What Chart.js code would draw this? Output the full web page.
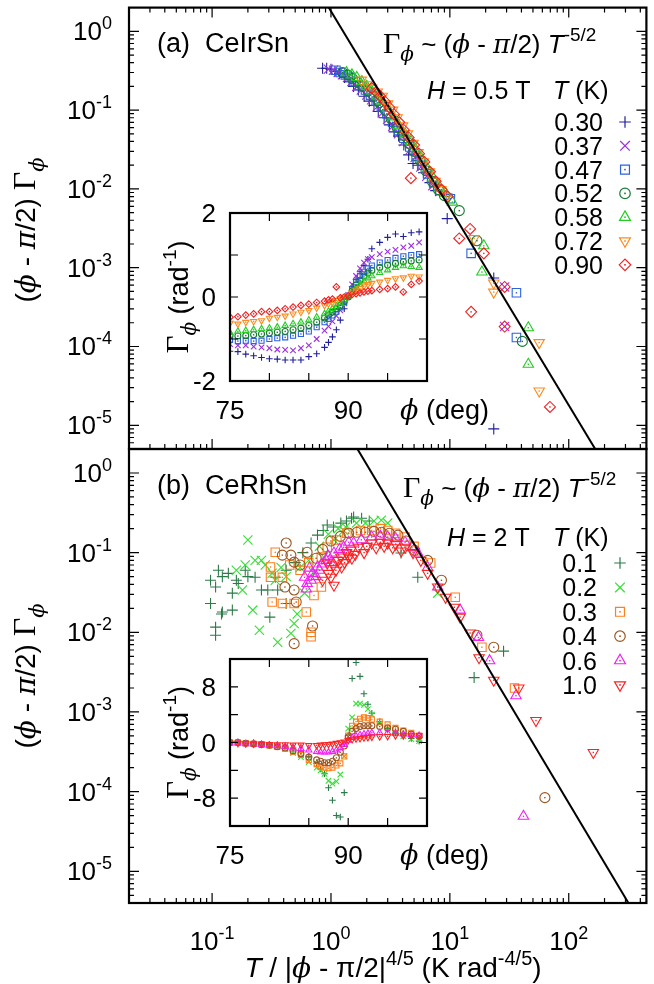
<!DOCTYPE html>
<html>
<head>
<meta charset="utf-8">
<script src="https://cdn.jsdelivr.net/npm/chart.js@4.4.1/dist/chart.umd.min.js"></script>
<style>
  body { margin: 0; background: #fff; }
  #wrap { position: relative; width: 654px; height: 984px; }
  #wrap canvas { position: absolute; left: 0; top: 0; }
</style>
</head>
<body>
<div id="wrap">
  <canvas id="mainA" width="654" height="984"></canvas>
  <canvas id="mainB" width="654" height="984"></canvas>
  <canvas id="insetA" width="654" height="984"></canvas>
  <canvas id="insetB" width="654" height="984"></canvas>
</div>
<script>
// ---- panel (a) CeIrSn, H = 0.5 T : main scaling plot [x, y] ----
const tempsA = ['0.30', '0.37', '0.47', '0.52', '0.58', '0.72', '0.90'];
const a030 = [[0.85,0.34],[0.92,0.34],[1.0,0.33],[1.08,0.31],[1.18,0.29],[1.3,0.26],[1.42,0.23],[1.55,0.2],[1.7,0.18],[1.9,0.15],[2.1,0.13],[2.3,0.115],[2.5,0.096],[2.8,0.08],[3.1,0.065],[3.4,0.053],[3.7,0.047],[4.1,0.036],[4.5,0.027],[4.9,0.021],[5.4,0.02],[6.0,0.016],[6.8,0.012],[7.6,0.0095],[9.5,0.0042],[23.4,0.00074],[23.4,0.000009]];
const a037 = [[0.95,0.33],[1.05,0.32],[1.15,0.3],[1.25,0.28],[1.38,0.26],[1.5,0.23],[1.65,0.2],[1.8,0.18],[2.0,0.155],[2.2,0.135],[2.45,0.11],[2.7,0.092],[3.0,0.076],[3.3,0.062],[3.7,0.05],[4.1,0.04],[4.6,0.031],[5.1,0.025],[5.7,0.019],[6.4,0.0145],[7.2,0.011],[28.9,0.00057],[28.9,0.000179]];
const a047 = [[1.1,0.32],[1.2,0.3],[1.32,0.28],[1.45,0.26],[1.6,0.23],[1.75,0.205],[1.95,0.18],[2.15,0.155],[2.4,0.13],[2.65,0.11],[2.95,0.09],[3.3,0.07],[3.7,0.055],[4.1,0.044],[4.6,0.034],[5.2,0.026],[5.8,0.02],[6.5,0.0155],[7.3,0.012],[8.2,0.0095],[10.1,0.0075],[15.1,0.00152],[36.3,0.00048],[36.3,0.00013]];
const a052 = [[1.25,0.3],[1.38,0.28],[1.52,0.25],[1.68,0.225],[1.85,0.2],[2.05,0.175],[2.3,0.15],[2.55,0.125],[2.85,0.1],[3.2,0.078],[3.6,0.06],[4.0,0.048],[4.5,0.038],[5.0,0.03],[5.6,0.023],[6.3,0.017],[7.1,0.0125],[8.0,0.0098],[9.0,0.0082],[12.0,0.0053],[16.9,0.0022],[40.7,0.000116]];
const a058 = [[1.35,0.3],[1.5,0.28],[1.65,0.26],[1.82,0.23],[2.0,0.2],[2.2,0.175],[2.45,0.15],[2.7,0.13],[3.0,0.105],[3.35,0.082],[3.75,0.063],[4.2,0.05],[4.7,0.04],[5.2,0.031],[5.8,0.024],[6.5,0.018],[7.3,0.0135],[8.2,0.0105],[9.2,0.0088],[10.5,0.0068],[19.3,0.0019],[18.6,0.00088],[45.7,0.000173],[45.7,0.0000594]];
const a072 = [[1.8,0.24],[2.0,0.21],[2.2,0.19],[2.45,0.17],[2.7,0.15],[3.0,0.12],[3.3,0.1],[3.6,0.08],[4.0,0.063],[4.4,0.05],[4.9,0.038],[5.4,0.029],[6.0,0.022],[6.7,0.0165],[7.5,0.0125],[8.4,0.0098],[9.4,0.008],[16.0,0.00235],[23.4,0.00064],[23.4,0.00049],[56.4,0.000112],[56.4,0.0000272]];
const a090 = [[2.2,0.19],[2.4,0.17],[2.6,0.15],[2.85,0.128],[3.1,0.108],[3.4,0.088],[3.75,0.07],[4.1,0.056],[4.5,0.045],[5.0,0.036],[5.5,0.028],[6.1,0.022],[6.8,0.0165],[7.6,0.0125],[8.5,0.0098],[9.6,0.008],[4.7,0.0137],[14.8,0.0031],[12.0,0.00235],[19.3,0.00152],[28.9,0.00057],[15.1,0.000275],[28.9,0.000179],[69.5,0.0000171]];

// ---- panel (a) inset: Gamma_phi (rad^-1) vs phi (deg) ----
const phiA = [75,76,77,78,79,80,81,82,83,84,85,86,87,87.5,88,88.5,89,89.5,90,90.5,91,91.5,92,92.5,93,94,95,96,97,98,99];
const ia030 = [-1.29,-1.30,-1.36,-1.40,-1.44,-1.47,-1.48,-1.50,-1.50,-1.50,-1.42,-1.35,-1.20,-1.08,-0.95,-0.78,-0.55,-0.28,0.02,0.25,0.42,0.60,0.75,0.90,1.15,1.30,1.42,1.50,1.44,1.53,1.55];
const ia037 = [-1.12,-1.15,-1.15,-1.18,-1.20,-1.22,-1.25,-1.26,-1.27,-1.22,-1.15,-1.00,-0.80,-0.70,-0.58,-0.45,-0.32,-0.15,0.05,0.30,0.50,0.68,0.82,0.90,0.95,1.02,1.08,1.12,1.18,1.22,1.30];
const ia047 = [-1.02,-1.05,-1.04,-1.05,-1.04,-1.00,-0.98,-0.96,-0.92,-0.88,-0.82,-0.72,-0.60,-0.52,-0.44,-0.35,-0.25,-0.12,0.02,0.18,0.35,0.50,0.60,0.68,0.75,0.82,0.88,0.93,0.97,1.00,1.02];
const ia052 = [-0.92,-0.93,-0.92,-0.90,-0.88,-0.86,-0.84,-0.82,-0.78,-0.74,-0.68,-0.60,-0.50,-0.43,-0.36,-0.28,-0.20,-0.10,0.00,0.14,0.28,0.40,0.50,0.57,0.63,0.70,0.76,0.80,0.84,0.86,0.88];
const ia058 = [-0.85,-0.82,-0.80,-0.78,-0.76,-0.74,-0.72,-0.68,-0.64,-0.60,-0.55,-0.48,-0.40,-0.34,-0.28,-0.22,-0.15,-0.07,0.02,0.12,0.22,0.30,0.38,0.45,0.50,0.58,0.64,0.70,0.74,0.72,0.70];
const ia072 = [-0.62,-0.64,-0.60,-0.58,-0.56,-0.50,-0.48,-0.45,-0.40,-0.36,-0.32,-0.26,-0.20,-0.16,-0.13,-0.08,-0.04,0.00,0.04,0.10,0.15,0.20,0.26,0.30,0.33,0.36,0.40,0.44,0.46,0.50,0.48];
const ia090 = [-0.48,-0.47,-0.43,-0.40,-0.35,-0.35,-0.32,-0.28,-0.24,-0.20,-0.17,-0.13,-0.10,-0.07,-0.05,0.24,-0.02,0.00,0.03,0.06,0.08,0.10,0.12,0.14,0.15,0.18,0.20,0.24,0.12,0.30,0.38];

// ---- panel (b) CeRhSn, H = 2 T : main scaling plot [x, y] ----
const tempsB = ['0.1', '0.2', '0.3', '0.4', '0.6', '1.0'];
const b01 = [[0.097,0.045],[0.107,0.037],[0.113,0.06],[0.122,0.05],[0.137,0.055],[0.148,0.031],[0.16,0.045],[0.166,0.041],[0.19,0.06],[0.122,0.018],[0.107,0.0116],[0.107,0.0092],[0.097,0.023],[0.12,0.017],[0.148,0.019],[0.2,0.05],[0.23,0.049],[0.26,0.034],[0.294,0.034],[0.306,0.0155],[0.34,0.049],[0.356,0.034],[0.42,0.023],[0.42,0.06],[0.5,0.075],[0.58,0.1],[0.68,0.132],[0.77,0.166],[0.86,0.19],[0.93,0.222],[1.05,0.21],[1.21,0.235],[1.35,0.25],[1.49,0.27],[1.55,0.28],[1.81,0.27],[2.1,0.25],[3.88,0.099],[5.37,0.049],[16,0.0027],[28.3,0.0058]];
const b02 = [[0.2,0.144],[0.23,0.08],[0.26,0.08],[0.28,0.07],[0.32,0.055],[0.34,0.045],[0.18,0.034],[0.16,0.06],[0.19,0.07],[0.22,0.019],[0.25,0.0106],[0.356,0.0075],[0.46,0.0097],[0.49,0.0129],[0.52,0.017],[0.6,0.031],[0.38,0.065],[0.42,0.05],[0.55,0.065],[0.65,0.08],[0.72,0.055],[0.8,0.12],[0.87,0.088],[0.95,0.17],[1.06,0.144],[1.15,0.2],[1.28,0.19],[1.33,0.21],[1.64,0.235],[1.95,0.235],[2.3,0.25],[2.65,0.256],[3.0,0.235],[7.9,0.031]];
const b03 = [[0.34,0.101],[0.31,0.066],[0.31,0.049],[0.39,0.049],[0.32,0.024],[0.39,0.023],[0.49,0.023],[0.62,0.018],[0.68,0.01],[0.68,0.0088],[0.72,0.029],[0.83,0.037],[0.45,0.07],[0.55,0.06],[0.65,0.075],[0.83,0.088],[0.93,0.117],[1.12,0.144],[1.36,0.176],[1.77,0.19],[2.2,0.19],[2.6,0.2],[3.0,0.19],[3.5,0.175],[4.2,0.157],[5.0,0.12],[6.9,0.074],[11.1,0.0275],[18.6,0.0065],[35,0.002]];
const b04 = [[0.42,0.132],[0.39,0.093],[0.46,0.093],[0.49,0.076],[0.63,0.101],[0.75,0.085],[0.41,0.037],[0.49,0.034],[0.51,0.024],[0.70,0.012],[0.49,0.0072],[0.55,0.07],[0.85,0.11],[1.0,0.14],[1.2,0.16],[1.41,0.176],[1.65,0.18],[1.95,0.18],[2.3,0.185],[2.65,0.18],[3.1,0.175],[3.66,0.166],[4.3,0.14],[5.07,0.107],[6.5,0.08],[8.5,0.045],[16.9,0.0092],[23.4,0.0065],[63,0.000084]];
const b06 = [[0.6,0.049],[0.62,0.035],[0.63,0.041],[0.66,0.064],[0.68,0.045],[0.7,0.055],[0.75,0.05],[0.77,0.066],[0.8,0.06],[0.84,0.072],[0.91,0.08],[0.95,0.09],[1.0,0.075],[1.06,0.099],[1.18,0.11],[1.28,0.117],[1.41,0.135],[1.55,0.132],[1.8,0.145],[2.2,0.157],[2.6,0.16],[3.0,0.157],[3.5,0.15],[4.2,0.135],[4.8,0.115],[5.37,0.099],[6.5,0.065],[7.9,0.037],[12.2,0.019],[17.4,0.0086],[21.6,0.0044],[36,0.0016],[41.6,0.000049]];
const b10 = [[0.85,0.045],[0.93,0.074],[0.95,0.055],[1.0,0.049],[1.05,0.07],[1.06,0.039],[1.1,0.06],[1.15,0.08],[1.21,0.088],[1.23,0.066],[1.3,0.075],[1.35,0.1],[1.41,0.088],[1.47,0.107],[1.5,0.085],[1.6,0.095],[1.7,0.117],[1.9,0.1],[2.0,0.12],[2.2,0.132],[2.4,0.115],[2.6,0.135],[2.8,0.12],[3.0,0.132],[3.3,0.115],[3.5,0.128],[3.9,0.105],[4.2,0.117],[4.9,0.1],[5.7,0.08],[6.5,0.055],[7.9,0.037],[9.2,0.0275],[10.9,0.0206],[12.2,0.0155],[14.8,0.0098],[17.6,0.0048],[23.4,0.0025],[38,0.002],[53,0.00078],[161,0.00031]];

// ---- panel (b) inset ----
const phiB = [75,76,77,78,79,80,81,82,83,84,85,86,86.5,87,87.5,88,88.5,89,89.5,90,90.5,91,91.5,92,92.5,93,94,95,96,97,98,99];
const ib01 = [0,0.1,-0.1,0,-0.2,-0.3,-0.3,-0.5,-0.8,-1.2,-2.0,-3.0,-3.8,-4.5,-6.5,-8.3,-10.5,-10.7,-7.2,1.0,9.2,11.5,9.5,7.0,5.5,4.2,3.0,2.0,1.4,1.0,0.6,0.2];
const ib02 = [0,0,-0.1,-0.2,-0.3,-0.4,-0.6,-0.9,-1.5,-2.1,-2.8,-3.6,-4.0,-4.5,-5.5,-5.9,-5.6,-4.6,-2.0,2.0,3.6,5.6,5.6,5.4,4.8,4.0,2.7,2.0,1.4,0.9,0.5,0.2];
const ib03 = [0,0,-0.1,-0.2,-0.3,-0.4,-0.6,-0.9,-1.3,-1.8,-2.5,-3.1,-3.4,-3.6,-3.7,-3.6,-3.3,-3.0,-2.0,1.0,2.4,3.0,3.4,3.6,3.5,3.3,3.0,2.6,2.1,1.7,1.4,1.0];
const ib04 = [0,0,-0.1,-0.2,-0.3,-0.4,-0.6,-0.8,-1.2,-1.6,-2.1,-2.5,-2.7,-2.9,-2.9,-2.7,-2.2,-1.4,-0.5,0.8,1.6,2.0,2.3,2.4,2.4,2.4,2.3,2.1,1.9,1.6,1.2,0.9];
const ib06 = [-0.1,-0.1,-0.2,-0.2,-0.3,-0.4,-0.5,-0.6,-0.8,-0.9,-1.1,-1.3,-1.4,-1.4,-1.4,-1.3,-1.1,-0.8,-0.3,0.3,0.7,0.9,1.1,1.2,1.3,1.4,1.4,1.4,1.3,1.2,1.1,1.0];
const ib10 = [-0.1,-0.1,-0.15,-0.2,-0.2,-0.25,-0.3,-0.3,-0.35,-0.35,-0.4,-0.4,-0.35,-0.3,-0.25,-0.2,-0.1,0,0.1,0.3,0.45,0.55,0.6,0.7,0.75,0.8,0.85,0.9,1.0,1.0,1.0,1.0];

// axis tick labels
const yExpMain = [0, -1, -2, -3, -4, -5];
const xExpMain = [-1, 0, 1, 2];
const xLabInset = [75, 90];
const yLabInsetA = [2, 0, -2];
const yLabInsetB = [8, 0, -8];

// power law T^-5/2 drawn in both panels
const fitA = { coef: 1.8, pow: -2.5 };
const fitB = { coef: 7.2, pow: -2.5 };

// ---- styles ----
const colorsA = ['#20209a', '#9b30e0', '#2c62da', '#157a30', '#22cc22', '#ff8a1c', '#f22020'];
const colorsB = ['#2c7a48', '#33e033', '#ff7f1a', '#9c5620', '#f020f0', '#ff2020'];
const STY = {
  plus:    { ps: 'cross', r: 5.5 },
  times:   { ps: 'crossRot', r: 6.5 },
  square:  { ps: 'rect', r: 6, dot: true },
  circle:  { ps: 'circle', r: 5, dot: true },
  tri:     { ps: 'triangle', r: 6, dot: true },
  tridown: { ps: 'triangle', r: 6, rot: 180, dot: true },
  diamond: { ps: 'rectRot', r: 5.5, dot: true }
};
const stylesA = [STY.plus, STY.times, STY.square, STY.circle, STY.tri, STY.tridown, STY.diamond];
const stylesB = [STY.plus, STY.times, STY.square, STY.circle, STY.tri, STY.tridown];

const SANS = '"Liberation Sans", Arial, sans-serif';
const SERIF = '"Liberation Serif", "DejaVu Serif", serif';
const GREEK = '"DejaVu Serif", serif';
const F = 25;    // legend / inset text
const FT = 26;   // tick labels
const FA = 28;   // axis titles

function font(kind, size) {
  if (kind === 'i') return 'italic ' + size + 'px ' + SANS;
  if (kind === 'g') return 'italic ' + size + 'px ' + GREEK;
  if (kind === 'G') return size + 'px ' + SERIF;
  return size + 'px ' + SANS;
}

// segs: [text, kind, size, dy]
function rich(ctx, segs, x, y, align) {
  let w = 0;
  segs.forEach(s => { ctx.font = font(s[1], s[2]); w += ctx.measureText(s[0]).width; });
  let cx = align === 'right' ? x - w : align === 'center' ? x - w / 2 : x;
  ctx.textAlign = 'left';
  ctx.textBaseline = 'alphabetic';
  ctx.fillStyle = '#000';
  segs.forEach(s => {
    ctx.font = font(s[1], s[2]);
    ctx.fillText(s[0], cx, y + (s[3] || 0));
    cx += ctx.measureText(s[0]).width;
  });
}

function richUp(ctx, segs, x, y) {
  ctx.save();
  ctx.translate(x, y);
  ctx.rotate(-Math.PI / 2);
  rich(ctx, segs, 0, 0, 'center');
  ctx.restore();
}

function symbol(ctx, st, color, x, y, k) {
  ctx.save();
  ctx.strokeStyle = color;
  ctx.fillStyle = 'rgba(0,0,0,0)';
  ctx.lineWidth = 1.2;
  Chart.helpers.drawPoint(ctx, { pointStyle: st.ps, radius: st.r * k, rotation: st.rot || 0, borderWidth: 1.2 }, x, y);
  if (st.dot) { ctx.fillStyle = color; ctx.fillRect(x - 0.8, y - 0.8, 1.6, 1.6); }
  ctx.restore();
}

function logTicks(scale) {
  const out = [];
  for (let e = Math.floor(Math.log10(scale.min)); e <= Math.ceil(Math.log10(scale.max)); e++) {
    for (let k = 1; k <= 9; k++) {
      const v = k * Math.pow(10, e);
      if (v >= scale.min && v <= scale.max) out.push({ v: v, major: k === 1 });
    }
  }
  return out;
}

function linTicks(scale, step) {
  const out = [];
  for (let v = Math.ceil(scale.min / step) * step; v <= scale.max + 1e-9; v += step) {
    out.push({ v: v, major: true });
  }
  return out;
}

// gnuplot-like frame with inward ticks on the chosen sides
function makeFrame(cfg) {
  return {
    id: 'frame_' + cfg.name,
    beforeDatasetsDraw(chart) {
      if (!cfg.fill) return;
      const a = chart.chartArea;
      chart.ctx.fillStyle = '#fff';
      chart.ctx.fillRect(a.left, a.top, a.right - a.left, a.bottom - a.top);
    },
    afterDatasetsDraw(chart) {
      const ctx = chart.ctx, a = chart.chartArea;
      const xs = chart.scales.x, ys = chart.scales.y;
      ctx.save();
      // centre dots of open symbols
      chart.data.datasets.forEach((ds, i) => {
        if (!ds.dot) return;
        ctx.fillStyle = ds.borderColor;
        chart.getDatasetMeta(i).data.forEach(el => ctx.fillRect(el.x - 0.7, el.y - 0.7, 1.4, 1.4));
      });
      ctx.strokeStyle = '#000';
      ctx.lineWidth = 1.2;
      ctx.beginPath();
      cfg.xTicks(xs).forEach(t => {
        const p = xs.getPixelForValue(t.v), L = t.major ? cfg.major : cfg.minor;
        if (p <= a.left + 1 || p >= a.right - 1) return;
        if (cfg.sides.includes('b')) { ctx.moveTo(p, a.bottom); ctx.lineTo(p, a.bottom - L); }
        if (cfg.sides.includes('t')) { ctx.moveTo(p, a.top); ctx.lineTo(p, a.top + L); }
      });
      cfg.yTicks(ys).forEach(t => {
        const p = ys.getPixelForValue(t.v), L = t.major ? cfg.major : cfg.minor;
        if (p <= a.top + 1 || p >= a.bottom - 1) return;
        if (cfg.sides.includes('l')) { ctx.moveTo(a.left, p); ctx.lineTo(a.left + L, p); }
        if (cfg.sides.includes('r')) { ctx.moveTo(a.right, p); ctx.lineTo(a.right - L, p); }
      });
      ctx.stroke();
      ctx.lineWidth = 2.2;
      ctx.strokeRect(a.left, a.top, a.right - a.left, a.bottom - a.top);
      cfg.texts(ctx, xs, ys, a);
      ctx.restore();
    }
  };
}

function scatterSet(label, data, color, st, k, order) {
  return {
    label: label, data: data, showLine: false, order: order,
    borderColor: color, backgroundColor: 'rgba(0,0,0,0)',
    pointStyle: st.ps, pointRotation: st.rot || 0, pointRadius: st.r * k,
    pointBorderWidth: 1.1, pointHoverRadius: st.r * k, dot: st.dot
  };
}

function fitSet(fit, xmin, xmax) {
  return {
    label: 'fit', order: 0, showLine: true, pointRadius: 0, borderColor: '#000', borderWidth: 2,
    data: [xmin, xmax].map(x => ({ x: x, y: fit.coef * Math.pow(x, fit.pow) }))
  };
}

const X_MIN = 0.02, X_MAX = 450, Y_MAX = 2;
const Y_MIN_A = 5e-6, Y_MIN_B = 4e-6;

function baseOptions(pad, xsc, ysc) {
  return {
    responsive: false, animation: false, devicePixelRatio: 1,
    layout: { padding: pad },
    plugins: { legend: { display: false }, tooltip: { enabled: false } },
    events: [],
    scales: { x: Object.assign({ display: false }, xsc), y: Object.assign({ display: false }, ysc) }
  };
}

function yLogLabels(ctx, ys) {
  yExpMain.forEach(e => {
    const p = ys.getPixelForValue(Math.pow(10, e));
    rich(ctx, [['10', 'n', FT], [String(e), 'n', 18, -11]], 112, p + 9, 'right');
  });
}

function legend(ctx, temps, colors, styles, xText, xSym, y0, dy) {
  temps.forEach((t, i) => {
    const y = y0 + i * dy;
    rich(ctx, [[t, 'n', F]], xText, y + 9, 'right');
    symbol(ctx, styles[i], colors[i], xSym, y, 1.05);
  });
}

const yTitle = [['(', 'n', FA], ['ϕ', 'g', FA], [' - ', 'n', FA], ['π', 'g', FA], ['/2) ', 'n', FA],
  ['Γ', 'G', 32], ['ϕ', 'g', 21, 9]];
const formula = [['Γ', 'G', 30], ['ϕ', 'g', 20, 8], [' ~ (', 'n', 26], ['ϕ', 'g', 26], [' - ', 'n', 26], ['π', 'g', 26],
  ['/2) ', 'n', 26], ['T', 'i', 26], ['-5/2', 'n', 19, -12]];

// ---- main panel (a) ----
const seriesA = [a030, a037, a047, a052, a058, a072, a090];
new Chart(document.getElementById('mainA'), {
  type: 'scatter',
  data: {
    datasets: [fitSet(fitA, X_MIN, X_MAX)].concat(
      seriesA.map((d, i) => scatterSet(tempsA[i], d, colorsA[i], stylesA[i], 1, 10 - i)))
  },
  options: baseOptions({ left: 129, top: 5, right: 2, bottom: 535 },
    { type: 'logarithmic', min: X_MIN, max: X_MAX },
    { type: 'logarithmic', min: Y_MIN_A, max: Y_MAX }),
  plugins: [makeFrame({
    name: 'mainA', sides: 'tblr', major: 10, minor: 5,
    xTicks: logTicks, yTicks: logTicks,
    texts(ctx, xs, ys, a) {
      yLogLabels(ctx, ys);
      rich(ctx, [['(a)  CeIrSn', 'n', 27]], 157, 52, 'left');
      rich(ctx, formula, 383, 53, 'left');
      rich(ctx, [['H', 'i', F], [' = 0.5 T', 'n', F]], 427, 99, 'left');
      rich(ctx, [['T', 'i', F], [' (K)', 'n', F]], 553, 99, 'left');
      legend(ctx, tempsA, colorsA, stylesA, 603, 625, 122, 23.8);
      richUp(ctx, yTitle, 35, 230);
    }
  })]
});

// ---- main panel (b) ----
const seriesB = [b01, b02, b03, b04, b06, b10];
new Chart(document.getElementById('mainB'), {
  type: 'scatter',
  data: {
    datasets: [fitSet(fitB, X_MIN, X_MAX)].concat(
      seriesB.map((d, i) => scatterSet(tempsB[i], d, colorsB[i], stylesB[i], 1, 10 - i)))
  },
  options: baseOptions({ left: 129, top: 449, right: 2, bottom: 81 },
    { type: 'logarithmic', min: X_MIN, max: X_MAX },
    { type: 'logarithmic', min: Y_MIN_B, max: Y_MAX }),
  plugins: [makeFrame({
    name: 'mainB', sides: 'blr', major: 10, minor: 5,
    xTicks: logTicks, yTicks: logTicks,
    texts(ctx, xs, ys, a) {
      yLogLabels(ctx, ys);
      xExpMain.forEach(e => {
        const p = xs.getPixelForValue(Math.pow(10, e));
        rich(ctx, [['10', 'n', FT], [String(e), 'n', 18, -11]], p, a.bottom + 47, 'center');
      });
      rich(ctx, [['(b)  CeRhSn', 'n', 27]], 157, 494, 'left');
      rich(ctx, formula, 403, 497, 'left');
      rich(ctx, [['H', 'i', F], [' = 2 T', 'n', F]], 447, 546, 'left');
      rich(ctx, [['T', 'i', F], [' (K)', 'n', F]], 553, 546, 'left');
      legend(ctx, tempsB, colorsB, stylesB, 597, 620, 563, 24.4);
      richUp(ctx, yTitle, 35, 676);
      rich(ctx, [['T', 'i', FA], [' / |', 'n', FA], ['ϕ', 'g', FA], [' - π/2|', 'n', FA], ['4/5', 'n', 20, -12],
        [' (K rad', 'n', FA], ['-4/5', 'n', 20, -12], [')', 'n', FA]], 393, 977, 'center');
    }
  })]
});

// ---- insets ----
function insetChart(id, phi, vals, temps, colors, styles, pad, ymax, ystep, yLabs, name) {
  new Chart(document.getElementById(id), {
    type: 'scatter',
    data: {
      datasets: vals.map((v, i) => scatterSet(temps[i], phi.map((p, j) => ({ x: p, y: v[j] })),
        colors[i], styles[i], 0.6, 10 - i))
    },
    options: baseOptions(pad, { type: 'linear', min: 75, max: 100 }, { type: 'linear', min: -ymax, max: ymax }),
    plugins: [makeFrame({
      name: name, sides: 'tblr', major: 8, minor: 4, fill: true,
      xTicks: s => linTicks(s, 5), yTicks: s => linTicks(s, ystep),
      texts(ctx, xs, ys, a) {
        yLabs.forEach(v => rich(ctx, [[String(v), 'n', FT]], 216, ys.getPixelForValue(v) + 9, 'right'));
        xLabInset.forEach(v => rich(ctx, [[String(v), 'n', FT]], xs.getPixelForValue(v), a.bottom + 38, 'center'));
        rich(ctx, [['ϕ', 'g', 27], [' (deg)', 'n', 27]], 400, a.bottom + 38, 'left');
        richUp(ctx, [['Γ', 'G', 31], ['ϕ', 'g', 20, 8], [' (rad', 'n', 27], ['-1', 'n', 19, -12], [')', 'n', 27]],
          188, (a.top + a.bottom) / 2);
      }
    })]
  });
}

insetChart('insetA', phiA, [ia030, ia037, ia047, ia052, ia058, ia072, ia090], tempsA, colorsA, stylesA,
  { left: 230, top: 213, right: 227, bottom: 603 }, 2, 1, yLabInsetA, 'insetA');
insetChart('insetB', phiB, [ib01, ib02, ib03, ib04, ib06, ib10], tempsB, colorsB, stylesB,
  { left: 230, top: 659, right: 227, bottom: 158 }, 12, 4, yLabInsetB, 'insetB');
</script>
</body>
</html>
